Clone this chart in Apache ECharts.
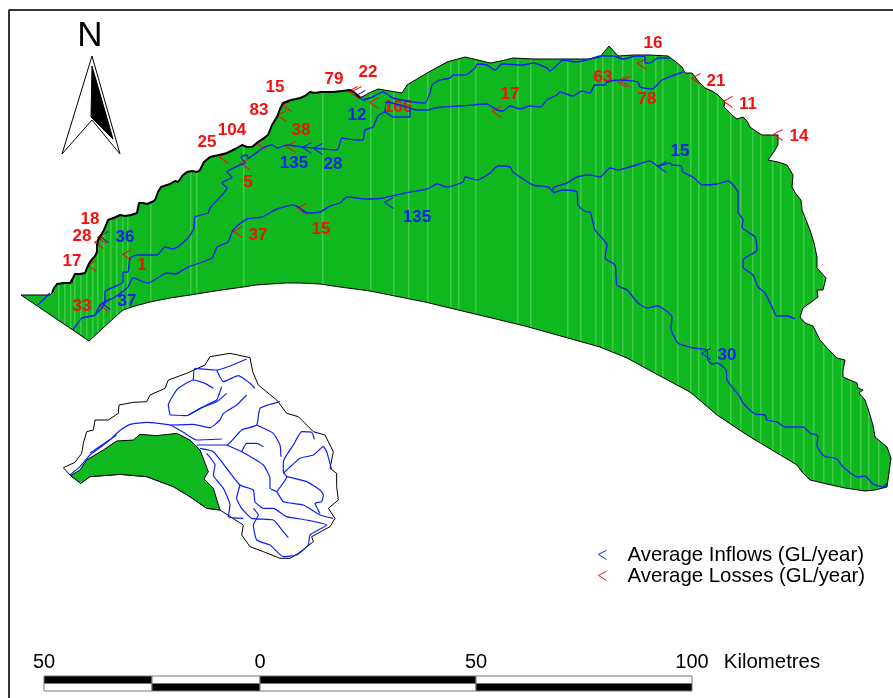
<!DOCTYPE html>
<html><head><meta charset="utf-8">
<style>html,body{margin:0;padding:0;background:#fff}#c{width:893px;height:698px}</style>
<script src="https://cdn.jsdelivr.net/npm/echarts@6/dist/echarts.min.js"></script>
</head><body><div id="c"></div>
<script>
// ---- main map, in page-scale map units
const coastNW = [[52,293],[54,288],[57,284],[64,283],[70,283],[72,283],[73,278],[75,274],[80,274],[85,273],[87,268],[90,262],[95,256],[97,252],[97,246],[98,240],[104,230],[108,220],[116,217],[120,215],[125,216],[131,215],[137,213],[139,203],[143,203],[147,204],[152,202],[155,200],[158,192],[161,187],[170,184],[175,181],[178,182],[183,175],[187,172],[192,171],[197,172],[200,170],[204,162],[210,157],[219,155],[227,153],[235,149],[242,145],[247,147],[252,147],[258,142],[264,138],[268,135],[272,125],[277,117],[280,109],[283,103],[291,100],[296,99],[300,98],[305,96],[310,92],[315,93],[321,92],[333,92],[342,91],[350,90],[355,93],[360,98]];
const coastN = [[360,98],[369,93],[378,89],[390,91],[402,93],[407,85],[427,73],[447,62],[465,57],[478,60],[490,63],[501,61],[513,58],[535,59],[557,59],[575,59],[590,59],[600,57],[609,46],[618,56],[633,55],[650,55],[668,56],[676,62],[682,67],[685,73],[692,73],[699,82],[705,88],[712,91],[718,95],[725,102],[724,107],[727,110],[733,116],[737,119],[743,117],[747,121],[750,127],[757,132],[762,135],[770,135],[778,135]];
const coastE = [[778,145],[773,153],[768,160],[778,162],[787,165],[793,175],[792,187],[796,194],[801,200],[802,210],[806,220],[810,230],[814,243],[817,257],[817,268],[826,278],[823,290],[817,290],[818,297],[810,303],[803,308],[800,317],[805,323],[813,326],[820,340],[828,349],[837,358],[845,360],[843,370],[843,377],[857,383],[858,388],[863,390],[859,393],[865,400],[869,412],[873,425],[875,437],[887,447],[891,458],[889,473],[887,487],[875,490],[865,491],[845,488],[827,484],[810,480],[802,472],[797,465]];
const coastS = [[797,465],[772,450],[747,435],[732,425],[717,415],[703,403],[690,392],[660,376],[627,358],[600,347],[575,340],[550,333],[525,326],[500,320],[475,314],[450,308],[425,302],[400,297],[370,291],[340,287],[320,284],[300,283],[285,283],[270,284],[256,285],[243,287],[215,291],[190,295],[170,298],[150,302],[135,306],[123,310],[115,317],[89,341],[21,295],[50,295]];

const riverSouth = [[73,330],[82,318],[95,315],[100,305],[115,297],[128,287],[133,278],[148,283],[167,273],[175,274],[188,267],[212,258],[217,247],[228,242],[233,230],[247,219],[262,217],[277,209],[293,205],[300,208],[307,213],[320,212],[330,206],[340,203],[347,197],[367,199],[383,198],[405,193],[427,189],[437,184],[447,187],[463,182],[465,177],[477,180],[490,173],[498,166],[510,167],[513,172],[533,185],[548,187],[553,192]];
const riverEast = [[553,192],[553,188],[567,183],[577,177],[590,175],[600,177],[610,168],[618,170],[633,166],[650,161],[658,166],[670,163],[672,165],[681,166],[683,172],[693,177],[703,185],[717,184],[728,181],[738,193],[738,212],[743,220],[742,227],[755,237],[757,250],[743,260],[743,267],[753,275],[758,287],[765,293],[772,307],[777,316],[788,316],[795,319]];
const riverSouthEast = [[553,193],[563,190],[577,192],[578,205],[587,212],[590,212],[595,230],[607,245],[605,258],[615,265],[617,285],[627,290],[638,303],[647,308],[657,306],[672,317],[671,328],[678,343],[693,348],[707,350],[708,360],[712,364],[717,363],[726,370],[727,380],[740,397],[743,403],[755,414],[765,415],[767,420],[777,422],[785,427],[803,427],[810,433],[818,436],[817,445],[824,456],[837,459],[843,467],[858,477],[865,476],[873,484],[883,487],[887,483]];
const riverMiddle = [[82,318],[95,315],[105,302],[105,292],[123,282],[123,272],[128,272],[130,258],[137,255],[157,255],[165,247],[173,249],[188,238],[194,228],[195,217],[208,213],[210,208],[222,195],[227,188],[222,183],[232,177],[227,172],[240,165],[245,163],[241,157],[247,155],[248,158],[263,148],[272,145],[277,148],[287,145],[303,147],[337,150],[342,138],[355,140],[363,140],[365,130],[373,127],[378,116],[385,112],[393,117],[410,117],[410,110]];
const riverNorth = [[362,100],[370,98],[383,92],[393,98],[413,102],[425,103],[430,93],[432,85],[440,80],[450,78],[453,75],[465,75],[475,68],[477,64],[487,65],[495,70],[502,64],[523,65],[533,63],[547,68],[550,71],[557,65],[563,60],[577,62],[590,59],[600,56],[613,56],[623,59],[637,56],[645,57],[645,63],[650,63],[658,58],[670,58]];
const riverCentral = [[385,112],[387,102],[400,105],[417,110],[427,110],[435,108],[442,107],[460,106],[487,104],[497,110],[503,111],[510,106],[520,109],[530,106],[540,107],[547,100],[557,95],[560,92],[573,96],[582,91],[590,93],[595,85],[605,85],[607,82],[620,80],[638,82],[640,87],[652,89],[662,80],[683,72]];
const riverWest = [[38,305],[45,298],[50,293]];
const mainRivers = [riverSouth, riverEast, riverSouthEast, riverMiddle, riverNorth, riverCentral, riverWest];

const inflowPoints = [[100,236],[102,303],[303,147],[314,148],[357,95],[385,202],[658,166],[702,353]];
const lossPoints = [[88,265],[95,242],[98,237],[123,254],[100,305],[234,231],[241,163],[220,157],[257,143],[278,115],[283,105],[287,146],[349,91],[353,91],[370,102],[493,111],[298,208],[638,63],[618,81],[622,81],[692,78],[724,101],[774,134]];
const lossLabels = [['17',72,261],['28',82,236],['18',90,219],['1',142,265],['33',82,306],['37',258,235],['5',248,182],['25',207,142],['104',232,130],['83',259,110],['15',275,87],['38',301,130],['79',334,79],['22',368,72],['166',398,107],['17',510,94],['15',321,229],['16',653,43],['63',603,77],['78',647,99],['21',716,81],['11',748,104],['14',799,136]];
const inflowLabels = [['36',125,237],['37',127,301],['135',294,163],['28',333,164],['12',357,115],['135',417,217],['15',680,151],['30',727,355]];

// ---- locator inset
const insetOutline = [[40,368],[75,352],[95,325],[100,295],[110,260],[130,255],[135,225],[175,225],[205,205],[207,180],[250,172],[290,170],[300,150],[345,130],[355,105],[410,85],[465,60],[480,35],[540,25],[600,38],[608,80],[625,120],[680,165],[710,205],[745,215],[790,260],[825,270],[850,320],[840,370],[860,385],[860,425],[865,465],[835,490],[855,520],[840,545],[785,575],[790,590],[745,625],[720,640],[690,640],[640,620],[600,605],[575,570],[580,540],[510,495],[470,490],[420,455],[370,425],[290,395],[210,388],[120,395],[92,415],[62,392]];
const insetArea = [[62,392],[90,375],[110,345],[160,315],[200,288],[250,285],[270,268],[320,272],[380,265],[420,285],[450,315],[475,380],[462,402],[490,430],[510,495],[470,490],[420,455],[370,425],[290,395],[210,388],[120,395],[92,415]];
const insetRivers = [
 [[60,390],[90,365],[120,330],[160,300],[185,280],[205,260],[240,238],[290,232],[360,240],[400,262],[440,285],[515,282]],
 [[120,325],[170,290],[200,270]],
 [[360,240],[430,238],[480,248],[510,225],[520,205],[560,180],[590,150]],
 [[360,210],[410,212],[450,190],[500,170],[530,145]],
 [[360,210],[355,180],[370,150],[385,130],[430,105],[465,115],[490,130]],
 [[430,105],[435,70],[500,75],[590,42]],
 [[500,75],[520,110],[565,92],[600,115],[615,130]],
 [[415,210],[470,180],[500,165],[515,125]],
 [[440,300],[530,300],[575,255],[620,240],[630,190],[690,170]],
 [[530,300],[575,320],[640,360],[660,400],[660,430],[680,440],[700,470],[760,480],[810,510],[850,520]],
 [[575,320],[590,295],[620,295],[640,305]],
 [[620,240],[670,265],[690,300],[693,335]],
 [[680,440],[710,395],[700,380],[700,350],[730,300],[755,260],[785,262],[793,283]],
 [[700,385],[750,340],[790,330],[820,305],[830,320],[845,375]],
 [[710,395],[770,410],[810,435],[820,450],[815,470],[795,475],[810,505]],
 [[450,310],[490,320],[530,370],[570,420],[610,435],[615,470],[640,490],[670,490],[710,515],[770,525],[830,540],[780,570],[775,600],[740,630],[700,635],[660,600],[620,585],[610,540],[625,510],[610,490]],
 [[470,325],[495,360],[490,390],[520,430],[540,480],[535,515],[580,520]],
 [[570,420],[560,460],[575,490],[605,520],[670,525],[700,560],[715,578]]
];

// ---- north arrow, scale bar
const arrowOuter = [[92,56],[120,154],[92,120],[62,154]];
const arrowBlack = [[92,66],[113,139],[91,117]];
const scaleTicks = [-50,-25,0,50,100];
const stripeX = [58,64,70,74,80,86,92,97,103,110,116,122,127,150,190,196,243,322,370,393,408,427,450,458,475,517,530,567,580,595,602,612,622,632,643,655,662,677,690,698,707,717,730,740,752,760,772,780,793,803,813,823,832,841,850,860,868,878];

const GREEN = '#0fb81f', BLUE = '#0a22f0', RED = '#f51010';
const CHEVRON = 'path://M9 0L0 4.5L9 10.5';

function stripes(){
  const cv = document.createElement('canvas'); cv.width = 893; cv.height = 4;
  const g = cv.getContext('2d'); g.fillStyle = GREEN; g.fillRect(0,0,893,4);
  g.fillStyle = '#3fca4c'; stripeX.forEach(x => g.fillRect(x,0,1.5,4));
  return cv;
}
const stripePattern = {image: stripes(), repeat:'repeat'};

function polygon(points, style, xi, yi){
  return {type:'custom', xAxisIndex:xi||0, yAxisIndex:yi||0, silent:true, clip:false,
    coordinateSystem:'cartesian2d', data:[[0,0]],
    renderItem:(p,api)=>({type:'polygon', shape:{points:points.map(q=>api.coord(q))}, style})};
}
function line(points, color, width, xi, yi, smooth){
  return {type:'line', xAxisIndex:xi||0, yAxisIndex:yi||0, data:points, symbol:'none', silent:true, clip:false,
    smooth:smooth||false, lineStyle:{color, width, opacity:1}, showSymbol:false};
}
function labels(list, color, size, weight){
  return {type:'scatter', symbolSize:1, itemStyle:{color:'rgba(0,0,0,0)', opacity:1}, silent:true,
    data:list.map(l=>({name:l[0], value:[l[1],l[2]]})),
    label:{show:true, position:'inside', formatter:'{b}', color, opacity:1, fontFamily:'Liberation Sans', fontSize:size, fontWeight:weight}};
}
function markers(name, pts, color){
  return {name, type:'scatter', symbol:CHEVRON, symbolSize:[9,11], symbolOffset:[4,1], silent:true,
    itemStyle:{color:'none', borderColor:color, borderWidth:1, opacity:1}, data:pts};
}

const main = [
  polygon([...coastNW,...coastN,...coastE,...coastS], {fill:stripePattern, stroke:'#000', lineWidth:1}),
  line(coastNW,'#000',2),
  ...mainRivers.map(r=>line(r,BLUE,1.4,0,0,0.2)),
  markers('Average Inflows (GL/year)', inflowPoints, BLUE),
  markers('Average Losses (GL/year)', lossPoints, RED),
  labels(lossLabels, RED, 17, 'bold'),
  labels(inflowLabels, BLUE, 17, 'bold'),
  polygon(insetOutline, {fill:'#fff', stroke:'#000', lineWidth:1}, 1, 1),
  ...insetRivers.map(r=>line(r,BLUE,1.2,1,1,0.15)),
  polygon(insetArea, {fill:GREEN, stroke:'#000', lineWidth:1}, 1, 1),
  polygon(arrowOuter, {fill:'#fff', stroke:'#000', lineWidth:1}),
  polygon(arrowBlack, {fill:'#000', stroke:'#000', lineWidth:1}),
  line([[9,698],[9,10],[893,10]],'#333',2),
  labels([['N',90,36]], '#000', 35, 'normal'),
  labels([['Kilometres',772,662]], '#000', 20.4, 'normal'),
  {type:'custom', xAxisIndex:2, yAxisIndex:2, coordinateSystem:'cartesian2d', silent:true, clip:false,
   data:[0,1,2,3].flatMap(i=>[0,1].map(r=>[i,r])),
   renderItem:(p,api)=>{
     const i=api.value(0), r=api.value(1);
     const a=api.coord([scaleTicks[i],r]), b=api.coord([scaleTicks[i+1],r+1]);
     const black = (i===0||i===2) ? r===0 : r===1;
     return {type:'rect', shape:{x:a[0],y:a[1],width:b[0]-a[0],height:b[1]-a[1]},
       style:{fill:black?'#000':'#fff', stroke:'#777', lineWidth:1}};
   }}
];

const chart = echarts.init(document.getElementById('c'), null, {renderer:'canvas', width:893, height:698});
const hidden = {show:false, splitLine:{show:false}};
chart.setOption({
  animation:false, backgroundColor:'#fff',
  legend:{show:true, orient:'vertical', left:591, top:540, itemGap:1, itemWidth:8, itemHeight:11, selectedMode:false,
    textStyle:{fontFamily:'Liberation Sans', fontSize:20.4, color:'#000', padding:[0,0,0,16]},
    data:[
     {name:'Average Inflows (GL/year)', icon:CHEVRON, itemStyle:{color:'none', borderColor:BLUE, borderWidth:1}},
     {name:'Average Losses (GL/year)', icon:CHEVRON, itemStyle:{color:'none', borderColor:RED, borderWidth:1}}
    ]},
  grid:[
    {left:0, top:0, width:893, height:698},
    {left:50, top:345, width:300, height:220},
    {left:44, top:676, width:648, height:15}
  ],
  xAxis:[
    {type:'value', min:0, max:893, gridIndex:0, ...hidden},
    {type:'value', min:0, max:900, gridIndex:1, ...hidden},
    {type:'value', min:-50, max:100, interval:50, gridIndex:2, position:'top', splitLine:{show:false},
     axisLine:{show:false}, axisTick:{show:false},
     axisLabel:{show:true, margin:4, color:'#000', fontFamily:'Liberation Sans', fontSize:20, formatter:v=>String(Math.abs(v))}}
  ],
  yAxis:[
    {type:'value', min:0, max:698, inverse:true, gridIndex:0, ...hidden},
    {type:'value', min:0, max:660, inverse:true, gridIndex:1, ...hidden},
    {type:'value', min:0, max:2, inverse:true, gridIndex:2, ...hidden}
  ],
  series: main
});
</script></body></html>
